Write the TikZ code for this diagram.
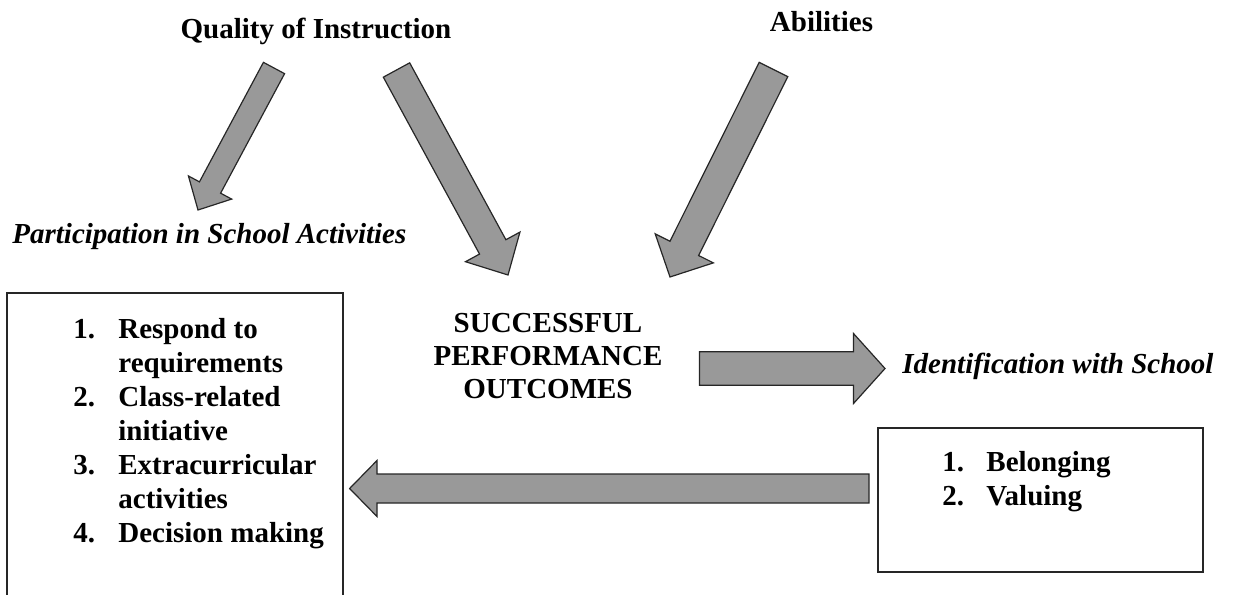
\documentclass[tikz,border=0pt]{standalone}
\usepackage{fontspec}
\setmainfont{Liberation Serif}
\usetikzlibrary{calc}

% Broad block arrow: tail centre, tip, shaft half-width, head half-width, head length
\newcommand\blockarrow[5]{%
  \coordinate (hb) at ($(#2)!#5!(#1)$);
  \path[blockarr]
    ($(#1)!#3!90:(#2)$) -- ($(hb)!#3!90:(#2)$) -- ($(hb)!#4!90:(#2)$) -- (#2)
    -- ($(hb)!#4!-90:(#2)$) -- ($(hb)!#3!-90:(#2)$) -- ($(#1)!#3!-90:(#2)$) -- cycle;
}

\begin{document}
\begin{tikzpicture}[x=0.5pt,y=-0.5pt,
  lbl/.style={inner sep=0pt, font=\fontsize{14.5pt}{16.5pt}\selectfont\bfseries},
  ilbl/.style={inner sep=0pt, font=\fontsize{14.5pt}{16.5pt}\selectfont\bfseries\itshape},
  listtxt/.style={inner sep=0pt, font=\fontsize{14.5pt}{17pt}\selectfont\bfseries},
  blockarr/.style={draw=black!85, fill=black!40, line width=0.6pt, line join=miter},
  boxline/.style={draw=black!85, line width=0.6pt}]
\useasboundingbox (0,0) rectangle (1235,594);

% headings
\node[lbl, anchor=base] (quality) at (316,39) {Quality of Instruction};
\node[lbl, anchor=base] (abilities) at (821.5,32) {Abilities};
\node[ilbl, anchor=base west] (participation) at (12,243) {Participation in School Activities};
\node[lbl, anchor=base] (outcomes) at (548,332)
  {\begin{tabular}[t]{@{}c@{}}SUCCESSFUL\\PERFORMANCE\\OUTCOMES\end{tabular}};
\node[ilbl, anchor=base west] (identification) at (902,373) {Identification with School};

% participation box (runs off the lower edge)
\draw[boxline] (7,600) -- (7,293) -- (343,293) -- (343,600);
\node[listtxt, anchor=base west] (partlist) at (73,338)
  {\begin{tabular}[t]{@{}p{22.5pt}@{}l@{}}
   1. & Respond to\\
      & requirements\\
   2. & Class-related\\
      & initiative\\
   3. & Extracurricular\\
      & activities\\
   4. & Decision making
   \end{tabular}};

% identification box
\node[boxline, draw, inner sep=0pt, minimum width=162.5pt, minimum height=72pt]
  (idbox) at (1040.5,500) {};
\node[listtxt, anchor=base west] (idlist) at (942,471)
  {\begin{tabular}[t]{@{}p{22pt}@{}l@{}}
   1. & Belonging\\
   2. & Valuing
   \end{tabular}};

% arrow ends
\coordinate (qpTail) at (274,68);    \coordinate (qpTip) at (198,210);
\coordinate (qoTail) at (396.5,70);  \coordinate (qoTip) at (508,275);
\coordinate (aoTail) at (773.5,69.5); \coordinate (aoTip) at (670,277);
\coordinate (oiTail) at (699.5,368.5); \coordinate (oiTip) at (885,368.5);
\coordinate (ipTail) at (869,488.5); \coordinate (ipTip) at (349.6,488.5);

% block arrows
\blockarrow{qpTail}{qpTip}{6pt}{12.25pt}{12.75pt}
\blockarrow{qoTail}{qoTip}{7.5pt}{15.5pt}{16pt}
\blockarrow{aoTail}{aoTip}{8pt}{16.25pt}{16pt}
\blockarrow{oiTail}{oiTip}{8.4pt}{17.5pt}{15.75pt}
\blockarrow{ipTail}{ipTip}{7.25pt}{14pt}{13.7pt}
\end{tikzpicture}
\end{document}
